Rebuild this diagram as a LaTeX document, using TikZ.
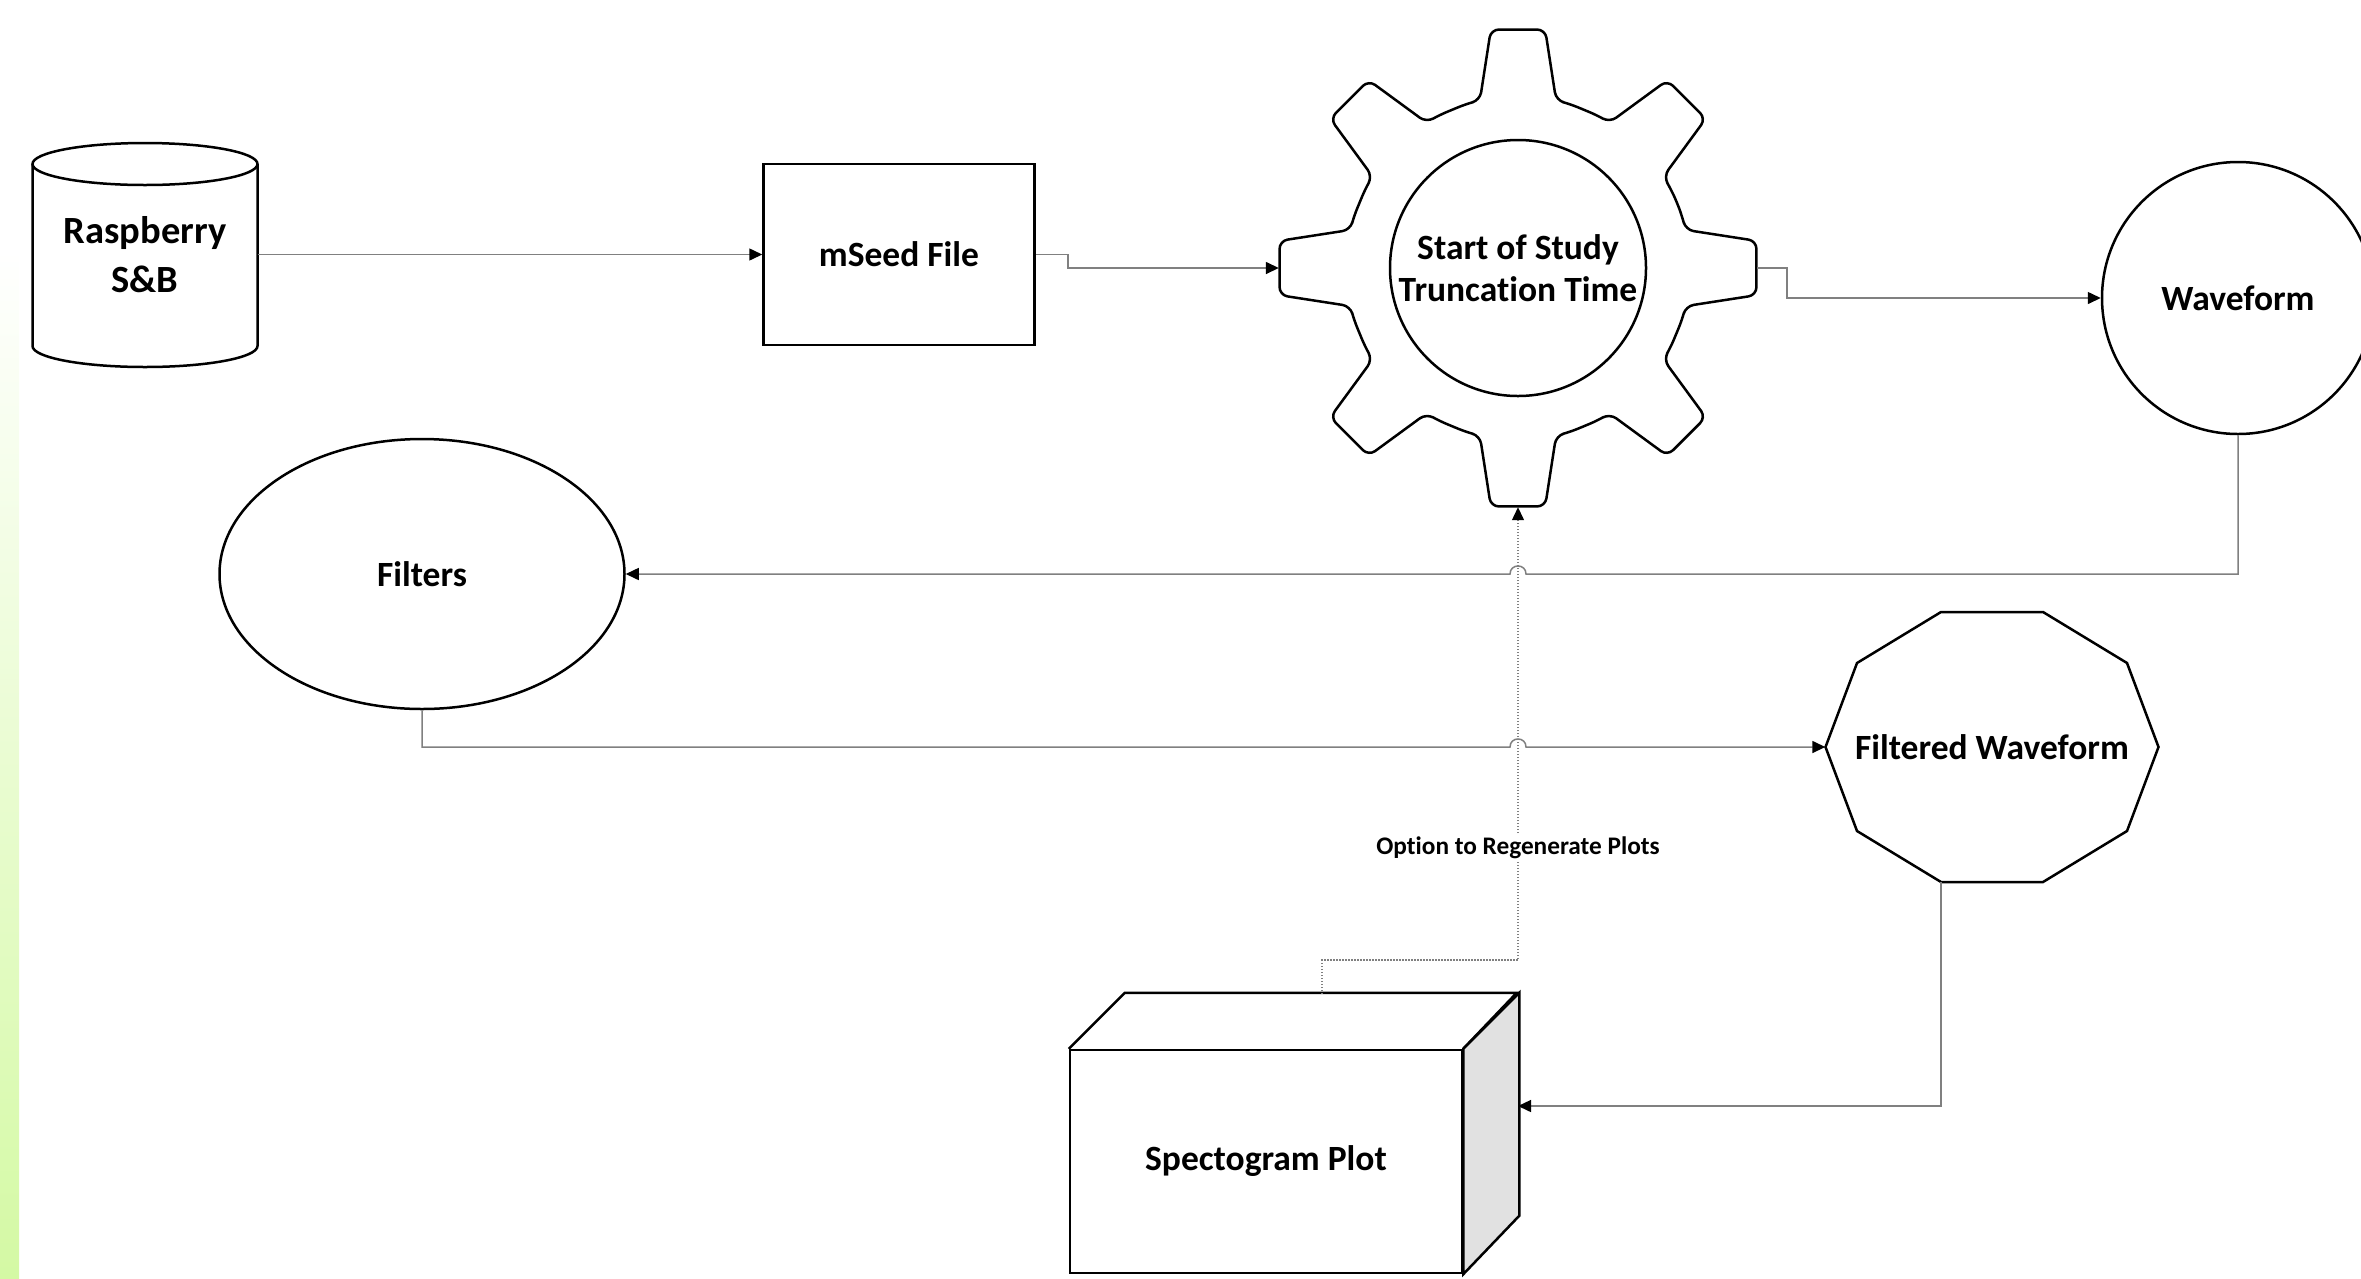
\documentclass[tikz,border=0pt]{standalone}
\usepackage{fontspec}
\setmainfont{Carlito}[Ligatures={NoCommon}]
\usetikzlibrary{arrows.meta,shapes.geometric}
\definecolor{conncol}{RGB}{128,128,128}
\definecolor{stripgreen}{RGB}{212,249,164}
\definecolor{sidegray}{RGB}{225,225,225}
\tikzset{
  outline/.style={draw=black, line width=2.5pt},
  lbl/.style={font=\bfseries\fontsize{35.5}{49}\selectfont, align=center, inner sep=0pt},
  tip/.style={-{Triangle[length=13pt,width=12pt,color=black]}},
  conn/.style={draw=conncol, line width=1.5pt, tip},
  regen/.style={draw=conncol, line width=1.3pt, dash pattern=on 1.5pt off 1.5pt, tip},
  optlabel/.style={font=\bfseries\fontsize{25.3}{30}\selectfont, fill=white, inner sep=3pt}
}
\begin{document}
\begin{tikzpicture}[x=1pt,y=-1pt]
\useasboundingbox (0,0) rectangle (2361,1278);
\clip (0,0) rectangle (2361,1278);
\shade[top color=white, bottom color=stripgreen] (0,250) rectangle (19,1278);

% Raspberry cylinder
\node[lbl, font=\bfseries\fontsize{38.5}{49}\selectfont, minimum width=225pt, minimum height=224pt] (cyl) at (145,254.5) {Raspberry\\S\&B};
\draw[outline] (32.5,164) -- (32.5,346)
  .. controls (32.5,357.6) and (82.9,367) .. (145,367)
  .. controls (207.1,367) and (257.5,357.6) .. (257.5,346) -- (257.5,164);
\draw[outline] (145,164) ellipse [x radius=112.5, y radius=21];

% mSeed file
\node[outline, lbl, minimum width=271pt, minimum height=181pt] (mseed) at (899,254.5) {mSeed File};

% Gear
\node[circle, minimum size=478pt, inner sep=0pt] (gearout) at (1518,268) {};
\begin{scope}[shift={(1518,268)}]
\draw[outline, rounded corners=8pt] (-22.5:172)
  \foreach \t in {0,45,...,315} {
    -- (\t-17.7:172) -- (\t-12.8:172) -- (\t-6.5:240) -- (\t+6.5:240)
    -- (\t+12.8:172) -- (\t+17.7:172)
  } -- cycle;
\end{scope}
\node[outline, circle, lbl, font=\bfseries\fontsize{35.5}{42}\selectfont, minimum size=256pt] (gear) at (1518,268) {Start of Study\\Truncation Time};

% Waveform
\node[outline, circle, lbl, minimum size=272pt] (wave) at (2238,298) {Waveform};

% Filters
\node[outline, ellipse, lbl, minimum width=405pt, minimum height=270pt] (filt) at (422,574) {Filters};

% Filtered waveform (decagon)
\node[lbl, minimum width=333pt, minimum height=270pt] (fw) at (1992,747) {Filtered Waveform};
\begin{scope}[shift={(fw.center)}]
\draw[outline] (-166.5,0) -- (-135,-84) -- (-51,-135) -- (51,-135) -- (135,-84)
  -- (166.5,0) -- (135,84) -- (51,135) -- (-51,135) -- (-135,84) -- cycle;
\coordinate (fwbl) at (-51,135);
\end{scope}

% Spectogram plot (box)
\node[outline, lbl, minimum width=392pt, minimum height=223pt] (spec) at (1266,1161.5) {Spectogram Plot};
\draw[outline] (spec.north west) -- ++(56,-56) -- ++(392,0) -- (spec.north east);
\draw[outline, fill=sidegray] (spec.north east) -- ++(56,-56) -- ++(0,223) -- (spec.south east) -- cycle;
\coordinate (specR) at (1518,1106);
\coordinate (specT) at (1322,994);

% Connectors
\draw[conn] (cyl.east) -- (mseed.west);
\draw[conn] (mseed.east) -- (1068,254.5) -- (1068,268) -- (gearout.west);
\draw[conn] (gearout.east) -- (1787,268) -- (1787,298) -- (wave.west);
\draw[regen] (specT) -- (1322,960) -- (1518,960) -- (gearout.south);
\node[optlabel] (opt) at (1518,848) {Option to Regenerate Plots};
\draw[conn] (wave.south) -- (2238,574) -- (1526,574)
  .. controls (1526,563.3) and (1510,563.3) .. (1510,574) -- (filt.east);
\draw[conn] (filt.south) -- (422,747) -- (1510,747)
  .. controls (1510,736.3) and (1526,736.3) .. (1526,747) -- (fw.west);
\draw[conn] (fwbl) -- (1941,1106) -- (specR);
\end{tikzpicture}
\end{document}
